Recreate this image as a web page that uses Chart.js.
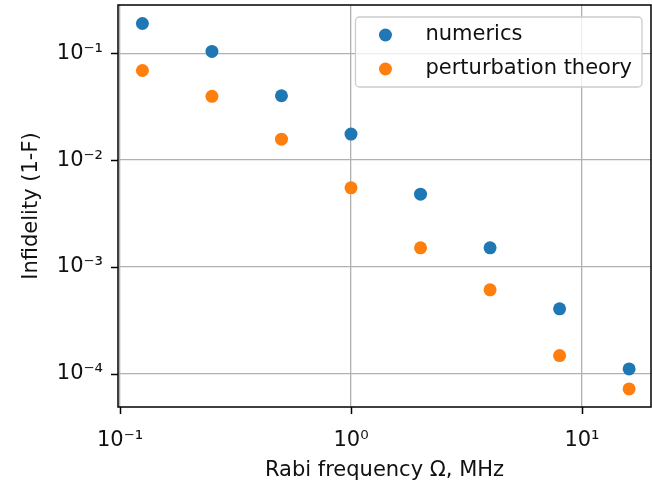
<!DOCTYPE html>
<html>
<head>
<meta charset="utf-8">
<script src="https://cdn.jsdelivr.net/npm/chart.js@4.4.1/dist/chart.umd.min.js"></script>
<style>
  html, body { margin: 0; padding: 0; background: #fff; }
</style>
</head>
<body>
<canvas id="infidelityChart" width="652" height="484"></canvas>
<script>
// Rabi frequency in MHz (x) and infidelity 1-F (y)
const rabiFreq = [0.125, 0.25, 0.5, 1, 2, 4, 8, 16];
const numerics = [0.19, 0.104, 0.040, 0.0175, 0.0048, 0.00151, 0.000405, 0.000111];
const perturbation = [0.069, 0.0395, 0.0157, 0.0055, 0.00151, 0.00061, 0.000148, 0.000072];

// Axis decades and their labels
const xMajorTicks = [0.1, 1, 10];
const xTickLabels = ['10⁻¹', '10⁰', '10¹'];
const yMajorTicks = [1e-4, 1e-3, 1e-2, 1e-1];
const yTickLabels = ['10⁻⁴', '10⁻³', '10⁻²', '10⁻¹'];

const xRange = [0.098, 19.9];
const yRange = [4.88e-5, 0.283];

const FONT = "'DejaVu Sans', sans-serif";
const FONT_SIZE = 21;
const TEXT = '#111';

function isMajor(v) {
    const l = Math.log10(v);
    return Math.abs(l - Math.round(l)) < 1e-9;
}

// 1..9 x 10^n ticks inside the axis range (like matplotlib's log locator)
function logTicks(min, max) {
    const ticks = [];
    for (let e = Math.floor(Math.log10(min)); e <= Math.ceil(Math.log10(max)); e++) {
        for (let k = 1; k <= 9; k++) {
            const v = k * Math.pow(10, e);
            if (v >= min && v <= max) ticks.push({ value: v });
        }
    }
    return ticks;
}

function labelFor(value, majors, labels) {
    const i = majors.findIndex(m => Math.abs(Math.log10(m) - Math.log10(value)) < 1e-9);
    return i >= 0 ? labels[i] : null;
}

// spines + major/minor tick marks, drawn on top of the points
const axesFrame = {
    id: 'axesFrame',
    afterDatasetsDraw(chart) {
        const { ctx, chartArea: a, scales: { x, y } } = chart;
        ctx.save();
        ctx.strokeStyle = '#000';
        x.ticks.forEach(t => {
            const px = Math.round(x.getPixelForValue(t.value)) + 0.5;
            const major = isMajor(t.value);
            ctx.lineWidth = major ? 1.5 : 1.1;
            ctx.beginPath();
            ctx.moveTo(px, a.bottom);
            ctx.lineTo(px, a.bottom + (major ? 7 : 4));
            ctx.stroke();
        });
        y.ticks.forEach(t => {
            const py = Math.round(y.getPixelForValue(t.value)) + 0.5;
            const major = isMajor(t.value);
            ctx.lineWidth = major ? 1.5 : 1.1;
            ctx.beginPath();
            ctx.moveTo(a.left, py);
            ctx.lineTo(a.left - (major ? 7 : 4), py);
            ctx.stroke();
        });
        ctx.lineWidth = 1.5;
        ctx.strokeRect(a.left, a.top, a.right - a.left, a.bottom - a.top);
        ctx.restore();
    }
};

// matplotlib-style legend in the upper right of the axes
const innerLegend = {
    id: 'innerLegend',
    afterDraw(chart) {
        const { ctx, chartArea: a } = chart;
        const sets = chart.data.datasets;
        ctx.save();
        ctx.font = FONT_SIZE + 'px ' + FONT;
        const textW = Math.max(...sets.map(d => ctx.measureText(d.label).width));
        const w = 70 + textW + 10;
        const h = 70;
        const left = a.right - 9 - w;
        const top = a.top + 12;
        ctx.beginPath();
        ctx.roundRect(left, top, w, h, 4);
        ctx.fillStyle = 'rgba(255,255,255,0.8)';
        ctx.fill();
        ctx.strokeStyle = '#cccccc';
        ctx.lineWidth = 1.3;
        ctx.stroke();
        sets.forEach((d, i) => {
            const cy = top + 18 + i * 34;
            ctx.beginPath();
            ctx.arc(left + 30, cy, 6.5, 0, Math.PI * 2);
            ctx.fillStyle = d.backgroundColor;
            ctx.fill();
            ctx.fillStyle = TEXT;
            ctx.textBaseline = 'middle';
            ctx.textAlign = 'left';
            ctx.fillText(d.label, left + 70, cy);
        });
        ctx.restore();
    }
};

const gridColor = ctx => (ctx.tick && isMajor(ctx.tick.value)) ? '#b0b0b0' : 'rgba(0,0,0,0)';

const ctx = document.getElementById('infidelityChart').getContext('2d');
new Chart(ctx, {
    type: 'scatter',
    data: {
        datasets: [{
            label: 'numerics',
            data: rabiFreq.map((f, i) => ({ x: f, y: numerics[i] })),
            backgroundColor: '#1f77b4',
            borderWidth: 0,
            pointRadius: 6.5
        },
        {
            label: 'perturbation theory',
            data: rabiFreq.map((f, i) => ({ x: f, y: perturbation[i] })),
            backgroundColor: '#ff7f0e',
            borderWidth: 0,
            pointRadius: 6.5
        }]
    },
    options: {
        responsive: false,
        animation: false,
        devicePixelRatio: 1,
        layout: { autoPadding: false, padding: { top: 5, left: 0, right: 1, bottom: 0 } },
        plugins: {
            legend: { display: false },
            tooltip: { enabled: false }
        },
        scales: {
            x: {
                type: 'logarithmic',
                min: xRange[0],
                max: xRange[1],
                afterBuildTicks: s => { s.ticks = logTicks(xRange[0], xRange[1]); },
                afterFit: s => { s.height = 77; s.paddingLeft = 0; s.paddingRight = 0; },
                border: { display: false },
                grid: { color: gridColor, lineWidth: 1.3, tickLength: 7, tickColor: 'rgba(0,0,0,0)' },
                ticks: {
                    autoSkip: false, maxRotation: 0, padding: 14, color: TEXT,
                    font: { family: FONT, size: FONT_SIZE },
                    callback: v => labelFor(v, xMajorTicks, xTickLabels)
                },
                title: {
                    display: true, text: 'Rabi frequency Ω, MHz', color: TEXT,
                    font: { family: FONT, size: FONT_SIZE },
                    padding: { top: 0, bottom: 1 }
                }
            },
            y: {
                type: 'logarithmic',
                min: yRange[0],
                max: yRange[1],
                afterBuildTicks: s => { s.ticks = logTicks(yRange[0], yRange[1]); },
                afterFit: s => { s.width = 118; s.paddingTop = 0; s.paddingBottom = 0; },
                border: { display: false },
                grid: { color: gridColor, lineWidth: 1.3, tickLength: 7, tickColor: 'rgba(0,0,0,0)' },
                ticks: {
                    autoSkip: false, padding: 8, color: TEXT,
                    font: { family: FONT, size: FONT_SIZE },
                    callback: v => labelFor(v, yMajorTicks, yTickLabels)
                },
                title: {
                    display: true, text: 'Infidelity (1-F)', color: TEXT,
                    font: { family: FONT, size: FONT_SIZE },
                    padding: { top: 19, bottom: 0 }
                }
            }
        }
    },
    plugins: [axesFrame, innerLegend]
});
</script>
</body>
</html>
